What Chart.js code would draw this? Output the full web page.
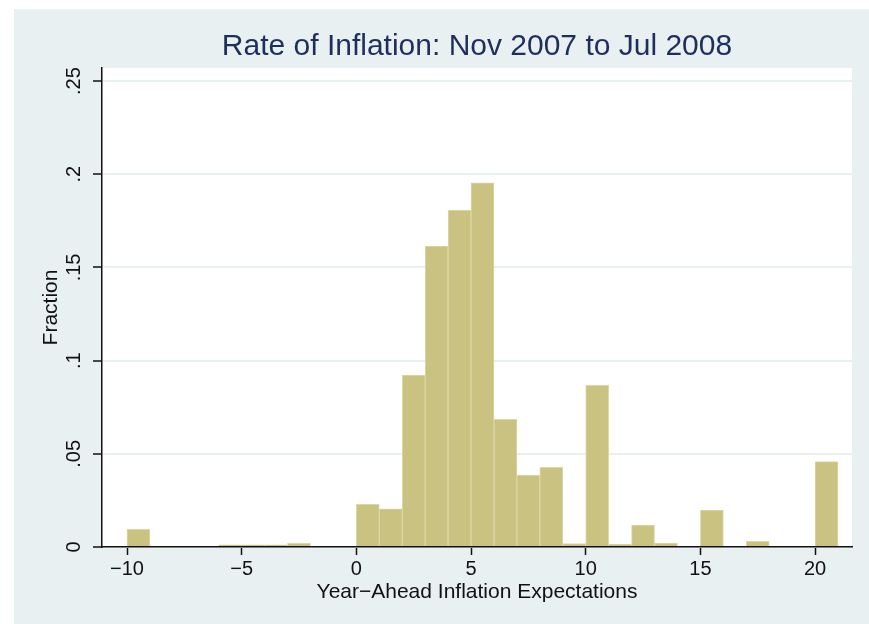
<!DOCTYPE html>
<html>
<head>
<meta charset="utf-8">
<title>Rate of Inflation</title>
<script src="https://cdn.jsdelivr.net/npm/chart.js@4.4.1/dist/chart.umd.min.js"></script>
<style>
    body { margin: 0; background: #ffffff; }
    #wrap { position: absolute; left: 14px; top: 9px; width: 855px; height: 615px; background: #e8f0f2; }
    canvas { display: block; }
</style>
</head>
<body>
<div id="wrap"><canvas id="histChart" width="855" height="615"></canvas></div>
<script>
// histogram bins (left edge, width 1) and their fractions
const binStarts = [-10, -6, -5, -4, -3, 0, 1, 2, 3, 4, 5, 6, 7, 8, 9, 10, 11, 12, 13, 15, 17, 20];
const fractions = [0.0095, 0.0012, 0.0012, 0.0012, 0.002, 0.0229, 0.0205, 0.0923, 0.1615, 0.1808,
                   0.1954, 0.0685, 0.0386, 0.0428, 0.0019, 0.0867, 0.0016, 0.0118, 0.0021, 0.0198,
                   0.0031, 0.0458];
const xTicks = [-10, -5, 0, 5, 10, 15, 20];
const xTickLabels = ['\u221210', '\u22125', '0', '5', '10', '15', '20'];
const yTicks = [0, 0.05, 0.1, 0.15, 0.2, 0.25];
const yTickLabels = ['0', '.05', '.1', '.15', '.2', '.25'];

const fontFamily = '"Liberation Sans", Arial, sans-serif';
const bars = binStarts.map((s, i) => ({ x: s + 0.5, y: fractions[i] }));

// white plot region on the blue-grey page
const plotBackground = {
    id: 'plotBackground',
    beforeDraw(chart) {
        const { ctx, chartArea } = chart;
        ctx.save();
        ctx.fillStyle = '#ffffff';
        ctx.fillRect(chartArea.left, chartArea.top, chartArea.right - chartArea.left, chartArea.bottom - chartArea.top);
        ctx.restore();
    }
};

const ctx = document.getElementById('histChart').getContext('2d');
const histChart = new Chart(ctx, {
    type: 'bar',
    data: {
        datasets: [{
            data: bars,
            backgroundColor: '#c9c281',
            borderColor: '#dcd7a6',
            borderWidth: 1,
            barPercentage: 1,
            categoryPercentage: 1,
            grouped: false
        }]
    },
    options: {
        responsive: false,
        animation: false,
        devicePixelRatio: 1,
        layout: { padding: { left: 0, right: 17, top: 0, bottom: 0 } },
        scales: {
            x: {
                type: 'linear',
                offset: false,
                min: -11.09,
                max: 21.61,
                afterBuildTicks: function(scale) {
                    scale.ticks = xTicks.map(v => ({ value: v }));
                },
                afterFit: function(scale) {
                    scale.height = 77;
                },
                grid: {
                    offset: false,
                    drawOnChartArea: false,
                    drawTicks: true,
                    tickLength: 8,
                    tickColor: '#111111',
                    tickWidth: 1.5
                },
                border: { color: '#111111', width: 1.5 },
                ticks: {
                    padding: 2,
                    color: '#111111',
                    font: { family: fontFamily, size: 20 },
                    maxRotation: 0,
                    callback: function(value) {
                        const i = xTicks.indexOf(value);
                        return i >= 0 ? xTickLabels[i] : '';
                    }
                },
                title: {
                    display: true,
                    text: 'Year\u2212Ahead Inflation Expectations',
                    color: '#111111',
                    font: { family: fontFamily, size: 21 },
                    padding: { top: 0, bottom: 19 }
                }
            },
            y: {
                min: 0,
                max: 0.257,
                afterBuildTicks: function(scale) {
                    scale.ticks = yTicks.map(v => ({ value: v }));
                },
                afterFit: function(scale) {
                    scale.width = 88;
                },
                grid: {
                    color: '#e8f0f2',
                    lineWidth: 2,
                    drawTicks: true,
                    tickLength: 9,
                    tickColor: '#111111',
                    tickWidth: 1.5
                },
                border: { color: '#111111', width: 1.5 },
                ticks: {
                    padding: 5,
                    color: '#111111',
                    crossAlign: 'center',
                    minRotation: 90,
                    maxRotation: 90,
                    font: { family: fontFamily, size: 20 },
                    callback: function(value) {
                        const i = yTicks.indexOf(value);
                        return i >= 0 ? yTickLabels[i] : '';
                    }
                },
                title: {
                    display: true,
                    text: 'Fraction',
                    color: '#111111',
                    font: { family: fontFamily, size: 21 },
                    padding: { top: 25, bottom: 0 }
                }
            }
        },
        plugins: {
            legend: { display: false },
            tooltip: { enabled: false },
            title: {
                display: true,
                fullSize: false,
                text: 'Rate of Inflation: Nov 2007 to Jul 2008',
                color: '#1e2f5c',
                font: { family: fontFamily, size: 30, weight: 'normal' },
                padding: { top: 20, bottom: 3 }
            }
        }
    },
    plugins: [plotBackground]
});
</script>
</body>
</html>
